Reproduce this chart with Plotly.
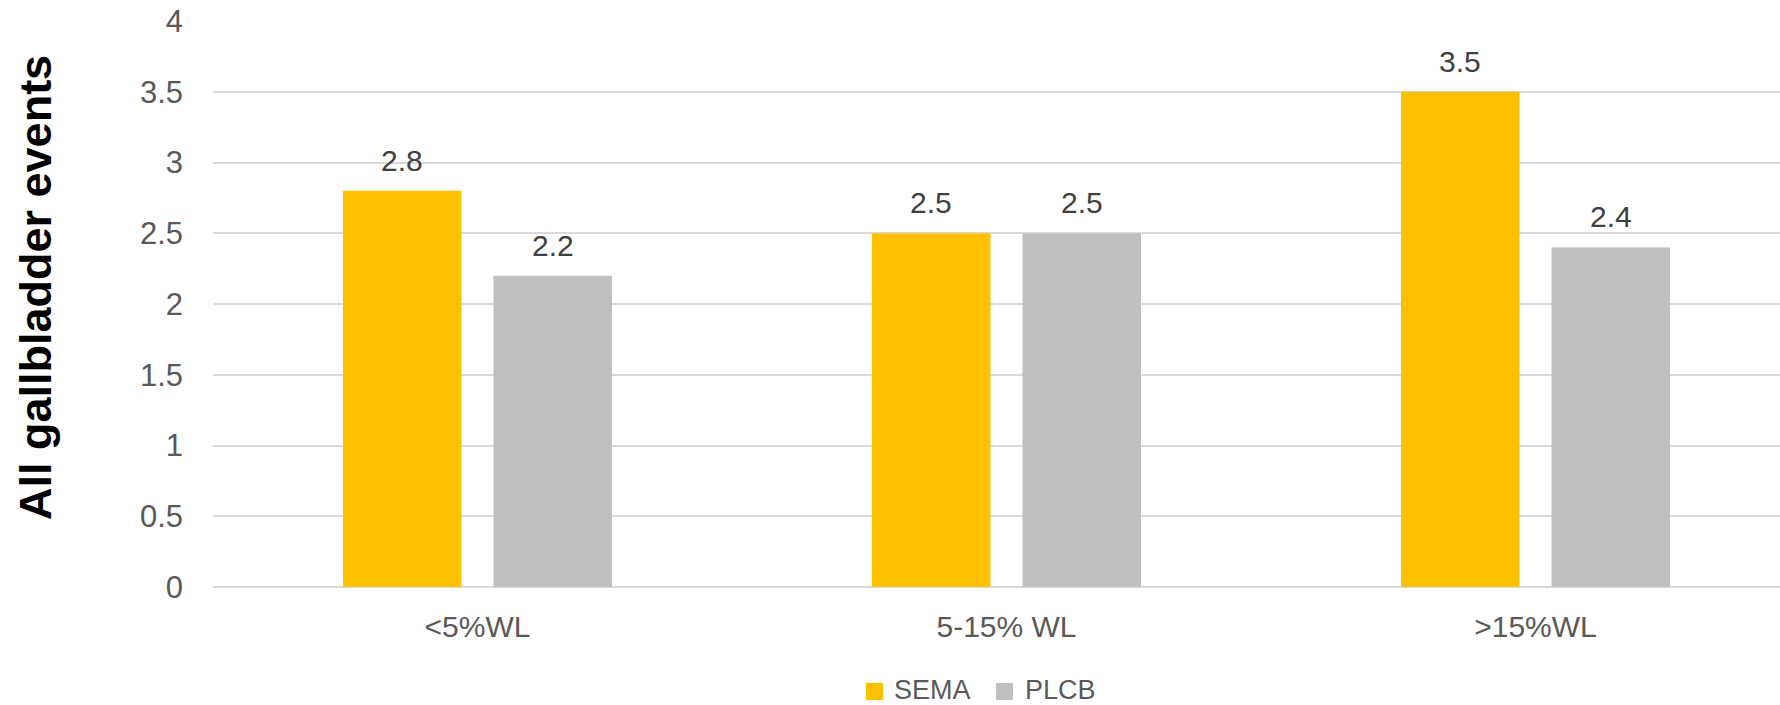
import plotly.graph_objects as go

# Weight-loss groups and gallbladder event values per arm
categories = ["<5%WL", "5-15% WL", ">15%WL"]
sema_values = [2.8, 2.5, 3.5]
plcb_values = [2.2, 2.5, 2.4]
series_names = ["SEMA", "PLCB"]
y_ticks = [0, 0.5, 1, 1.5, 2, 2.5, 3, 3.5, 4]
y_tick_text = ["0", "0.5", "1", "1.5", "2", "2.5", "3", "3.5", "4"]

SEMA_COLOR = "#FFC000"
PLCB_COLOR = "#BFBFBF"
GRID_COLOR = "#D9D9D9"
TEXT_COLOR = "#595959"
LABEL_COLOR = "#404040"
FONT = "Liberation Sans, Arial, sans-serif"

W, H = 1780, 705
M_L, M_R, M_T, M_B = 213, 0, 21, 118
plot_w = W - M_L - M_R
plot_h = H - M_T - M_B
cat_px = 529.0                      # pixel width of one category slot
bar_w = 118.5 / cat_px
inner_gap = 32.0 / cat_px
sema_off = -(bar_w + inner_gap / 2)
plcb_off = inner_gap / 2

fig = go.Figure()
fig.add_trace(go.Bar(
    x=categories, y=sema_values, name=series_names[0],
    marker=dict(color=SEMA_COLOR, line=dict(width=0)),
    width=bar_w, offset=sema_off, showlegend=False,
))
fig.add_trace(go.Bar(
    x=categories, y=plcb_values, name=series_names[1],
    marker=dict(color=PLCB_COLOR, line=dict(width=0)),
    width=bar_w, offset=plcb_off, showlegend=False,
))

# value labels above each bar
for vals, off in ((sema_values, sema_off), (plcb_values, plcb_off)):
    for i, v in enumerate(vals):
        fig.add_annotation(
            x=i + off + bar_w / 2, y=v, xref="x", yref="y",
            text=f"{v:g}", showarrow=False, yanchor="bottom", yshift=12,
            font=dict(family=FONT, size=30, color=LABEL_COLOR),
        )

# axis title
fig.add_annotation(
    x=(35 - M_L) / plot_w, y=(H - M_B - 288) / plot_h, xref="paper", yref="paper",
    text="<b>All gallbladder events</b>", textangle=-90, showarrow=False,
    xanchor="center", yanchor="middle",
    font=dict(family=FONT, size=45, color="#000000"),
)

# legend: colour swatches with series names
def px_x(p):
    return (p - M_L) / plot_w

def px_y(p):
    return (H - M_B - p) / plot_h

legend_items = [
    (series_names[0], SEMA_COLOR, 866, 892),
    (series_names[1], PLCB_COLOR, 996, 1023),
]
for name, color, sx, tx in legend_items:
    fig.add_shape(
        type="rect", xref="paper", yref="paper",
        x0=px_x(sx), x1=px_x(sx + 17), y0=px_y(700), y1=px_y(683),
        fillcolor=color, line=dict(width=0),
    )
    fig.add_annotation(
        x=px_x(tx), y=px_y(690), xref="paper", yref="paper",
        text=name, showarrow=False, xanchor="left", yanchor="middle",
        font=dict(family=FONT, size=27, color=TEXT_COLOR),
    )

fig.update_layout(
    width=W, height=H,
    margin=dict(l=M_L, r=M_R, t=M_T, b=M_B, pad=0),
    paper_bgcolor="white", plot_bgcolor="white",
    barmode="overlay",
    showlegend=False,
    font=dict(family=FONT, size=29, color=TEXT_COLOR),
)
fig.update_xaxes(
    type="category", range=[-0.5, -0.5 + plot_w / cat_px],
    showgrid=False, showline=False, zeroline=False, ticks="",
    tickfont=dict(family=FONT, size=30, color=TEXT_COLOR),
    ticklabelstandoff=19,
)
fig.update_yaxes(
    range=[0, 4], tickvals=y_ticks, ticktext=y_tick_text,
    showgrid=True, gridcolor=GRID_COLOR, gridwidth=1.5,
    zeroline=True, zerolinecolor=GRID_COLOR, zerolinewidth=2,
    showline=False, ticks="",
    tickfont=dict(family=FONT, size=31, color=TEXT_COLOR),
    ticklabelstandoff=29,
)

fig.write_html("out.html")
